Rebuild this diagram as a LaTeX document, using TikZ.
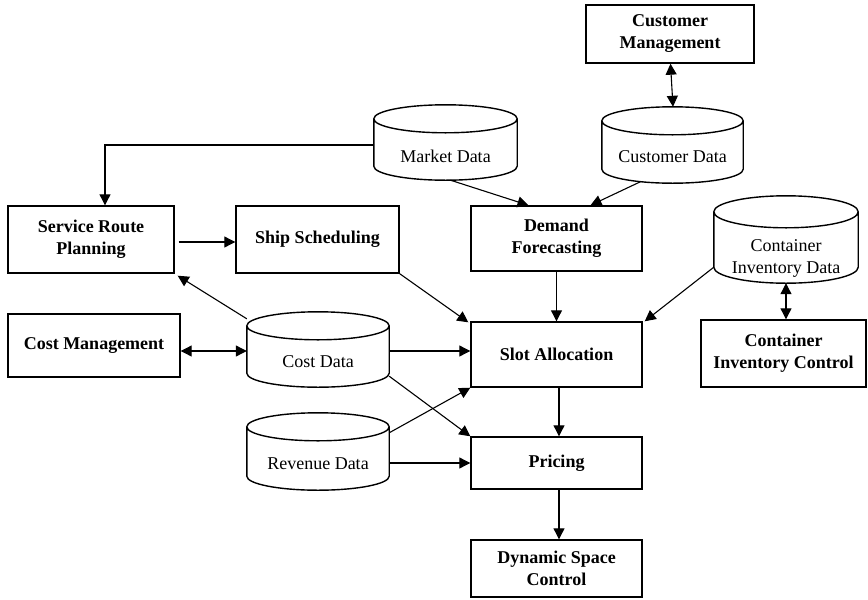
\documentclass[tikz,border=0pt]{standalone}
\usepackage{fontspec}
\setmainfont{Liberation Serif}
\usetikzlibrary{arrows.meta,calc}
\newcommand\drawcyl[2]{%
  \draw[cyl] let \p1=(#1.north west), \p2=(#1.south east), \n1={(\x2-\x1)/2} in
    (\x1,\y1-#2pt) -- (\x1,\y2+#2pt)
    arc[start angle=180,end angle=360,x radius=\n1,y radius=#2pt]
    -- (\x2,\y1-#2pt)
    arc[start angle=0,end angle=360,x radius=\n1,y radius=#2pt];}
\begin{document}
\begin{tikzpicture}[x=1pt,y=1pt,
  box/.style={draw, line width=1.4pt, inner sep=0pt, align=center,
    font=\fontsize{18}{22}\selectfont\bfseries},
  cylbox/.style={inner sep=0pt},
  cyltext/.style={align=center, inner sep=0pt,
    font=\fontsize{18}{22}\selectfont},
  cyl/.style={line width=1.4pt},
  tip/.tip={Triangle[length=11pt,width=11pt]},
  arr/.style={line width=1.1pt, -tip},
  dbl/.style={line width=1.1pt, tip-tip},
]
\useasboundingbox (0,0) rectangle (868,-600);

% boxes
\node[box, minimum width=168pt, minimum height=58pt] (cm)  at (670,-34)    {Customer\\Management};
\node[box, minimum width=166pt, minimum height=67pt] (srp) at (91,-239.5)  {Service Route\\Planning};
\node[box, minimum width=163pt, minimum height=67pt] (ss)  at (317.5,-239.5) {Ship Scheduling};
\node[box, minimum width=171pt, minimum height=65pt] (df)  at (556.5,-238.5) {Demand\\Forecasting};
\node[box, minimum width=165pt, minimum height=67pt] (cic) at (783.5,-353.5) {Container\\Inventory Control};
\node[box, minimum width=172pt, minimum height=63pt] (cmg) at (94,-345.5)  {Cost Management};
\node[box, minimum width=171pt, minimum height=65pt] (sa)  at (556.5,-354.5) {Slot Allocation};
\node[box, minimum width=171pt, minimum height=52pt] (pr)  at (556.5,-463)  {Pricing};
\node[box, minimum width=171pt, minimum height=57pt] (dsc) at (556.5,-568.5) {Dynamic Space\\Control};

% cylinders
\node[cylbox, minimum width=141pt, minimum height=76pt] (cud) at (672.5,-145) {};
\node[cylbox, minimum width=143pt, minimum height=75pt] (md)  at (445.5,-142.5) {};
\node[cylbox, minimum width=144pt, minimum height=87pt] (cid) at (786,-239.5) {};
\node[cylbox, minimum width=142pt, minimum height=75pt] (cod) at (318,-349.5) {};
\node[cylbox, minimum width=142pt, minimum height=77pt] (rd)  at (318,-451.5) {};
\drawcyl{cud}{14}
\drawcyl{md}{14}
\drawcyl{cid}{16}
\drawcyl{cod}{14}
\drawcyl{rd}{14}
\node[cyltext] (cudt) at ([yshift=-12pt]cud.center) {Customer Data};
\node[cyltext] (mdt)  at ([yshift=-14pt]md.center)  {Market Data};
\node[cyltext] (cidt) at ([yshift=-19pt]cid.center) {Container\\Inventory Data};
\node[cyltext] (codt) at ([yshift=-12pt]cod.center) {Cost Data};
\node[cyltext] (rdt)  at ([yshift=-12pt]rd.center)  {Revenue Data};

% connectors
\draw[arr] ([yshift=-2.5pt]md.west) -| ([xshift=14pt]srp.north);
\draw[arr, shorten <=4pt] ([yshift=-2.5pt]srp.east) -- ([yshift=-2.5pt]ss.west);
\draw[arr] ([xshift=5pt]md.south) -- ([xshift=-28pt]df.north);
\draw[arr] ([xshift=-32pt,yshift=1.5pt]cud.south) -- ([xshift=34pt]df.north);
\draw[dbl] ([xshift=0.5pt]cm.south) -- ([xshift=0.5pt]cud.north);
\draw[arr] (df.south) -- (sa.north);
\draw[arr] ([yshift=16pt]cid.south west) -- ([xshift=2pt]sa.north east);
\draw[dbl] (cid.south) -- (cid.south |- cic.north);
\draw[arr] ([yshift=-7pt]cod.north west) -- ([xshift=3pt,yshift=-2pt]srp.south east);
\draw[arr] (ss.south east) -- ([xshift=-2pt,yshift=-1pt]sa.north west);
\draw[dbl] ([yshift=-1.5pt]cod.west -| cmg.east) -- ([yshift=-1.5pt]cod.west);
\draw[arr] ([yshift=-1.5pt]cod.east) -- ([yshift=-1.5pt]cod.east -| sa.west);
\draw[arr] ([yshift=11pt]cod.south east) -- (pr.north west);
\draw[arr] ([yshift=-20pt]rd.north east) -- (sa.south west);
\draw[arr] (rd.east |- pr.west) -- (pr.west);
\draw[arr] ([xshift=2.5pt]sa.south) -- ([xshift=2.5pt]pr.north);
\draw[arr] ([xshift=2.5pt]pr.south) -- ([xshift=2.5pt]dsc.north);
\end{tikzpicture}
\end{document}
